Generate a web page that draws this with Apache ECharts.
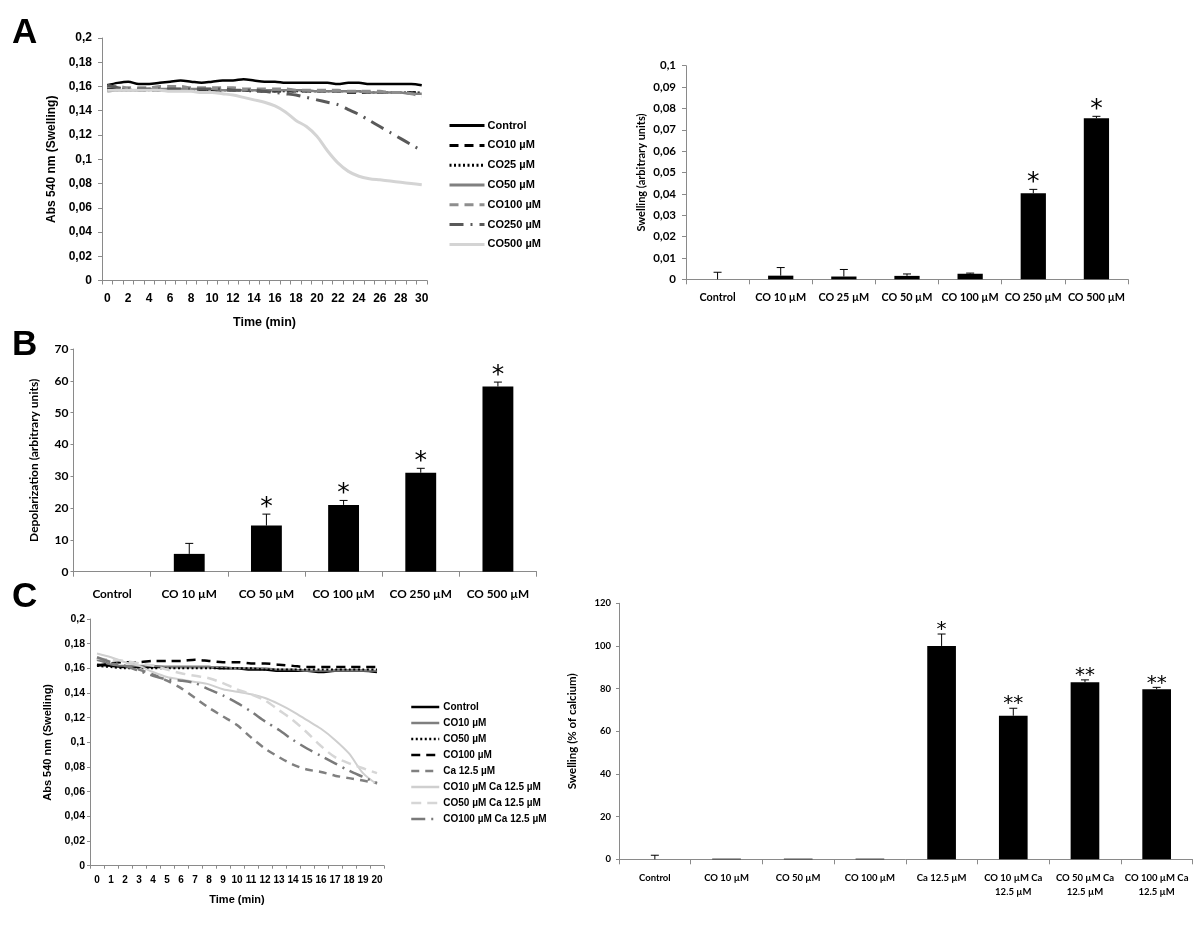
<!DOCTYPE html>
<html><head><meta charset="utf-8">
<script src="https://cdn.jsdelivr.net/npm/echarts@6/dist/echarts.min.js"></script>
<style>html,body{margin:0;padding:0;background:#fff}#c{width:1200px;height:927px}</style>
</head><body><div id="c"></div>
<script>
// ---------- Panel A (line) ----------
const timeA = ['0','1','2','3','4','5','6','7','8','9','10','11','12','13','14','15','16','17','18','19','20','21','22','23','24','25','26','27','28','29','30'];
const aControl = [0.161,0.163,0.164,0.162,0.162,0.163,0.164,0.165,0.164,0.163,0.164,0.165,0.165,0.166,0.165,0.164,0.164,0.163,0.163,0.163,0.163,0.163,0.162,0.163,0.163,0.162,0.162,0.162,0.162,0.162,0.161];
const aCO10 = [0.159,0.158,0.158,0.157,0.157,0.157,0.157,0.157,0.157,0.157,0.157,0.157,0.157,0.157,0.156,0.156,0.156,0.156,0.156,0.156,0.156,0.156,0.156,0.155,0.155,0.155,0.155,0.155,0.155,0.155,0.155];
const aCO25 = [0.157,0.157,0.157,0.157,0.157,0.157,0.157,0.157,0.157,0.157,0.157,0.157,0.157,0.157,0.157,0.156,0.156,0.156,0.156,0.156,0.156,0.156,0.156,0.156,0.156,0.155,0.155,0.155,0.155,0.155,0.155];
const aCO50 = [0.156,0.157,0.157,0.157,0.158,0.158,0.158,0.158,0.158,0.158,0.158,0.157,0.157,0.157,0.157,0.157,0.157,0.157,0.157,0.157,0.156,0.156,0.156,0.156,0.156,0.155,0.155,0.155,0.155,0.154,0.154];
const aCO100 = [0.160,0.160,0.159,0.159,0.159,0.160,0.160,0.160,0.159,0.159,0.159,0.159,0.159,0.158,0.158,0.158,0.158,0.158,0.157,0.157,0.157,0.157,0.157,0.156,0.156,0.156,0.156,0.155,0.155,0.154,0.152];
const aCO250 = [0.161,0.159,0.158,0.158,0.158,0.158,0.158,0.158,0.158,0.158,0.158,0.158,0.157,0.157,0.157,0.156,0.155,0.154,0.153,0.151,0.149,0.147,0.145,0.141,0.137,0.132,0.127,0.122,0.117,0.112,0.107];
const aCO500 = [0.157,0.157,0.157,0.157,0.157,0.157,0.156,0.156,0.156,0.155,0.155,0.154,0.153,0.151,0.149,0.147,0.144,0.139,0.132,0.127,0.119,0.107,0.097,0.090,0.086,0.084,0.083,0.082,0.081,0.080,0.079];
const aLineNames = ['Control','CO10 µM','CO25 µM','CO50 µM','CO100 µM','CO250 µM','CO500 µM'];

// ---------- Panel A (bar) ----------
const aBarCats = ['Control','CO 10 µM','CO 25 µM','CO 50 µM','CO 100 µM','CO 250 µM','CO 500 µM'];
const aBarVals = [0, 0.0017, 0.0013, 0.0016, 0.0026, 0.0403, 0.0754];
const aBarErr  = [0.0033, 0.0055, 0.0046, 0.0025, 0.0029, 0.0421, 0.0763];
const aBarSig  = ['', '', '', '', '', '*', '*'];

// ---------- Panel B (bar) ----------
const bCats = ['Control','CO 10 µM','CO 50 µM','CO 100 µM','CO 250 µM','CO 500 µM'];
const bVals = [0, 5.6, 14.5, 21.0, 31.1, 58.2];
const bErr  = [0, 8.9, 18.1, 22.4, 32.5, 59.6];
const bSig  = ['', '', '*', '*', '*', '*'];

// ---------- Panel C (line) ----------
const timeC = ['0','1','2','3','4','5','6','7','8','9','10','11','12','13','14','15','16','17','18','19','20'];
const cControl = [0.163,0.162,0.161,0.161,0.161,0.161,0.161,0.161,0.161,0.160,0.160,0.159,0.159,0.158,0.158,0.158,0.157,0.158,0.158,0.158,0.157];
const cCO10 = [0.168,0.163,0.162,0.162,0.162,0.161,0.161,0.161,0.161,0.161,0.160,0.160,0.160,0.159,0.159,0.158,0.158,0.158,0.158,0.158,0.158];
const cCO50 = [0.162,0.161,0.160,0.160,0.160,0.160,0.160,0.160,0.160,0.160,0.160,0.160,0.159,0.159,0.159,0.159,0.159,0.159,0.159,0.159,0.159];
const cCO100 = [0.162,0.164,0.165,0.165,0.166,0.166,0.166,0.167,0.166,0.165,0.165,0.164,0.164,0.163,0.162,0.161,0.161,0.161,0.161,0.161,0.161];
const cCa = [0.167,0.164,0.162,0.159,0.155,0.150,0.144,0.136,0.128,0.121,0.114,0.104,0.095,0.088,0.082,0.078,0.076,0.073,0.071,0.069,0.067];
const cCO10Ca = [0.172,0.169,0.165,0.162,0.157,0.153,0.151,0.149,0.147,0.143,0.141,0.139,0.136,0.131,0.125,0.118,0.111,0.102,0.091,0.075,0.066];
const cCO50Ca = [0.168,0.167,0.166,0.164,0.162,0.159,0.156,0.154,0.152,0.148,0.143,0.139,0.134,0.126,0.118,0.108,0.097,0.088,0.083,0.079,0.075];
const cCO100Ca = [0.169,0.165,0.162,0.158,0.154,0.151,0.150,0.148,0.143,0.138,0.132,0.125,0.117,0.110,0.102,0.095,0.089,0.083,0.077,0.072,0.067];
const cLineNames = ['Control','CO10 µM','CO50 µM','CO100 µM','Ca 12.5 µM','CO10 µM Ca 12.5 µM','CO50 µM Ca 12.5 µM','CO100 µM Ca 12.5 µM'];

// ---------- Panel C (bar) ----------
const cBarCats = ['Control','CO 10 µM','CO 50 µM','CO 100 µM','Ca 12.5 µM','CO 10 µM Ca\n12.5 µM','CO 50 µM Ca\n12.5 µM','CO 100 µM Ca\n12.5 µM'];
const cBarVals = [0, 0.3, 0.3, 0.3, 100, 67.3, 83.0, 79.7];
const cBarErr  = [1.9, 0, 0, 0, 105.6, 70.8, 84.1, 80.6];
const cBarSig  = ['', '', '', '', '*', '**', '**', '**'];

// ---------- styling ----------
const AX = '#8a8a8a';
const ARIAL = 'Liberation Sans';
const CAL = 'Lato';
const aLineData = [aControl, aCO10, aCO25, aCO50, aCO100, aCO250, aCO500];
const aLineStyles = [
  {color:'#000000', width:2.5, type:'solid'},
  {color:'#000000', width:2.5, type:[9,6]},
  {color:'#000000', width:2, type:[2,2.5]},
  {color:'#808080', width:2.5, type:'solid'},
  {color:'#8e8e8e', width:3, type:[9,6]},
  {color:'#595959', width:3, type:[14,7,2,7]},
  {color:'#d4d4d4', width:3, type:'solid'}
];
const cLineData = [cControl, cCO10, cCO50, cCO100, cCa, cCO10Ca, cCO50Ca, cCO100Ca];
const cLineStyles = [
  {color:'#000000', width:2.5, type:'solid'},
  {color:'#7f7f7f', width:2, type:'solid'},
  {color:'#000000', width:2, type:[2,2.5]},
  {color:'#000000', width:2.5, type:[9,6]},
  {color:'#808080', width:2.5, type:[8,6]},
  {color:'#cfcfcf', width:2, type:'solid'},
  {color:'#d6d6d6', width:2.5, type:[10,6]},
  {color:'#7a7a7a', width:2.5, type:[14,6,2,6]}
];

function txt(family, size, weight) {
  return {color:'#000', fontFamily:family, fontSize:size, fontWeight:weight || 'bold'};
}
function catAxis(gi, data, o) {
  return {
    type:'category', gridIndex:gi, data:data, boundaryGap:true,
    axisLine:{show:true, lineStyle:{color:AX, width:1}},
    axisTick:{show:true, interval:0, length:o.tick, lineStyle:{color:AX}},
    axisLabel:Object.assign({interval:o.interval, margin:o.margin, lineHeight:o.lh}, txt(o.font, o.size)),
    splitLine:{show:false},
    name:o.name || '', nameLocation:'middle', nameGap:o.nameGap || 0,
    nameTextStyle:txt(o.font, o.nameSize || o.size)
  };
}
function valAxis(gi, min, max, step, o) {
  return {
    type:'value', gridIndex:gi, min:min, max:max, interval:step,
    axisLine:{show:true, lineStyle:{color:AX, width:1}},
    axisTick:{show:true, length:o.tick, lineStyle:{color:AX}},
    axisLabel:Object.assign({margin:o.margin, formatter:o.fmt}, txt(o.font, o.size)),
    splitLine:{show:false},
    name:o.name, nameLocation:'middle', nameRotate:90, nameGap:o.nameGap,
    nameTextStyle:txt(o.font, o.nameSize)
  };
}
const comma = function (v) { return String(+(+v).toFixed(3)).replace('.', ','); };

function barSeries(i, vals) {
  return {type:'bar', xAxisIndex:i, yAxisIndex:i, data:vals, barWidth:'40%', silent:true,
          itemStyle:{color:'#000'}};
}
function errSeries(i, vals, errs, sigs, cap, starSize, lift) {
  return {
    type:'custom', xAxisIndex:i, yAxisIndex:i, z:5, clip:false, silent:true,
    data: vals.map(function (v, k) { return [k, v, errs[k]]; }),
    encode:{x:0, y:1},
    renderItem:function (params, api) {
      const k = api.value(0), v = api.value(1), e = api.value(2);
      const pv = api.coord([k, v]);
      const pe = api.coord([k, Math.max(v, e)]);
      const ch = [];
      if (e > v) {
        ch.push({type:'line', shape:{x1:pv[0], y1:pv[1], x2:pe[0], y2:pe[1]}, style:{stroke:'#000', lineWidth:1}});
        ch.push({type:'line', shape:{x1:pe[0]-cap, y1:pe[1], x2:pe[0]+cap, y2:pe[1]}, style:{stroke:'#000', lineWidth:1}});
      }
      const s = sigs[params.dataIndex];
      if (s) {
        ch.push({type:'text', style:{text:s, x:pe[0], y:pe[1]-lift, align:'center', verticalAlign:'middle',
          fontFamily:'DejaVu Sans', fontSize:starSize, fill:'#000'}});
      }
      return {type:'group', children:ch};
    }
  };
}

const series = [];
aLineNames.forEach(function (n, k) {
  const st = aLineStyles[k];
  series.push({type:'line', name:'A|' + n, xAxisIndex:0, yAxisIndex:0, data:aLineData[k],
    symbol:'none', smooth:0.3, silent:true,
    lineStyle:{color:st.color, width:st.width, type:st.type}, itemStyle:{color:st.color}});
});
cLineNames.forEach(function (n, k) {
  const st = cLineStyles[k];
  series.push({type:'line', name:'C|' + n, xAxisIndex:3, yAxisIndex:3, data:cLineData[k],
    symbol:'none', smooth:0.3, silent:true,
    lineStyle:{color:st.color, width:st.width, type:st.type}, itemStyle:{color:st.color}});
});
series.push(barSeries(1, aBarVals), errSeries(1, aBarVals, aBarErr, aBarSig, 4, 25, 7));
series.push(barSeries(2, bVals), errSeries(2, bVals, bErr, bSig, 4, 25, 7));
series.push(barSeries(4, cBarVals), errSeries(4, cBarVals, cBarErr, cBarSig, 4, 20, 4));

const option = {
  backgroundColor:'#ffffff',
  animation:false,
  grid:[
    {left:102, top:38, width:325, height:242.5},
    {left:686, top:65.7, width:442, height:213.6},
    {left:73.5, top:349, width:463, height:222.7},
    {left:90, top:619, width:294, height:246.7},
    {left:619, top:603.3, width:573.5, height:256}
  ],
  xAxis:[
    catAxis(0, timeA, {tick:4, interval:1, margin:12, font:ARIAL, size:12, name:'Time (min)', nameGap:36, nameSize:12.5}),
    catAxis(1, aBarCats, {tick:5, interval:0, margin:13, font:CAL, size:10.8}),
    catAxis(2, bCats, {tick:5, interval:0, margin:16, font:CAL, size:11.8}),
    catAxis(3, timeC, {tick:3, interval:0, margin:10, font:ARIAL, size:10, name:'Time (min)', nameGap:29, nameSize:11}),
    catAxis(4, cBarCats, {tick:5, interval:0, margin:12, font:CAL, size:9.5, lh:13.5})
  ],
  yAxis:[
    valAxis(0, 0, 0.2, 0.02, {tick:4, margin:10, font:ARIAL, size:12, fmt:comma, name:'Abs 540 nm (Swelling)', nameGap:44, nameSize:12}),
    valAxis(1, 0, 0.1, 0.01, {tick:4, margin:10, font:CAL, size:11.5, fmt:comma, name:'Swelling (arbitrary units)', nameGap:39, nameSize:11}),
    valAxis(2, 0, 70, 10, {tick:3, margin:5, font:CAL, size:12, fmt:null, name:'Depolarization (arbitrary units)', nameGap:33, nameSize:12}),
    valAxis(3, 0, 0.2, 0.02, {tick:3, margin:5, font:ARIAL, size:10.5, fmt:comma, name:'Abs 540 nm (Swelling)', nameGap:37, nameSize:11}),
    valAxis(4, 0, 120, 20, {tick:3, margin:8, font:CAL, size:9.5, fmt:null, name:'Swelling (% of calcium)', nameGap:41, nameSize:11.5})
  ],
  legend:[
    {orient:'vertical', left:448, top:120, itemWidth:35, itemHeight:14, itemGap:8.6, padding:0,
     selectedMode:false, itemStyle:{opacity:0}, lineStyle:{width:3},
     data:aLineNames.map(function (n) { return 'A|' + n; }),
     formatter:function (n) { return n.split('|')[1]; },
     textStyle:Object.assign({padding:[0,0,0,-2]}, txt(ARIAL, 11))},
    {orient:'vertical', left:410, top:701.4, itemWidth:28, itemHeight:14, itemGap:4.8, padding:0,
     selectedMode:false, itemStyle:{opacity:0}, lineStyle:{width:2.5},
     data:cLineNames.map(function (n) { return 'C|' + n; }),
     formatter:function (n) { return n.split('|')[1]; },
     textStyle:Object.assign({padding:[0,0,0,-1]}, txt(ARIAL, 10))}
  ],
  graphic:[
    {type:'text', left:12, top:16, style:{text:'A', fontFamily:ARIAL, fontWeight:'bold', fontSize:35, fill:'#000'}},
    {type:'text', left:12, top:328, style:{text:'B', fontFamily:ARIAL, fontWeight:'bold', fontSize:35, fill:'#000'}},
    {type:'text', left:12, top:580, style:{text:'C', fontFamily:ARIAL, fontWeight:'bold', fontSize:35, fill:'#000'}}
  ],
  series:series
};
const chart = echarts.init(document.getElementById('c'), null, {renderer:'canvas'});
chart.setOption(option);
</script>
</body></html>
